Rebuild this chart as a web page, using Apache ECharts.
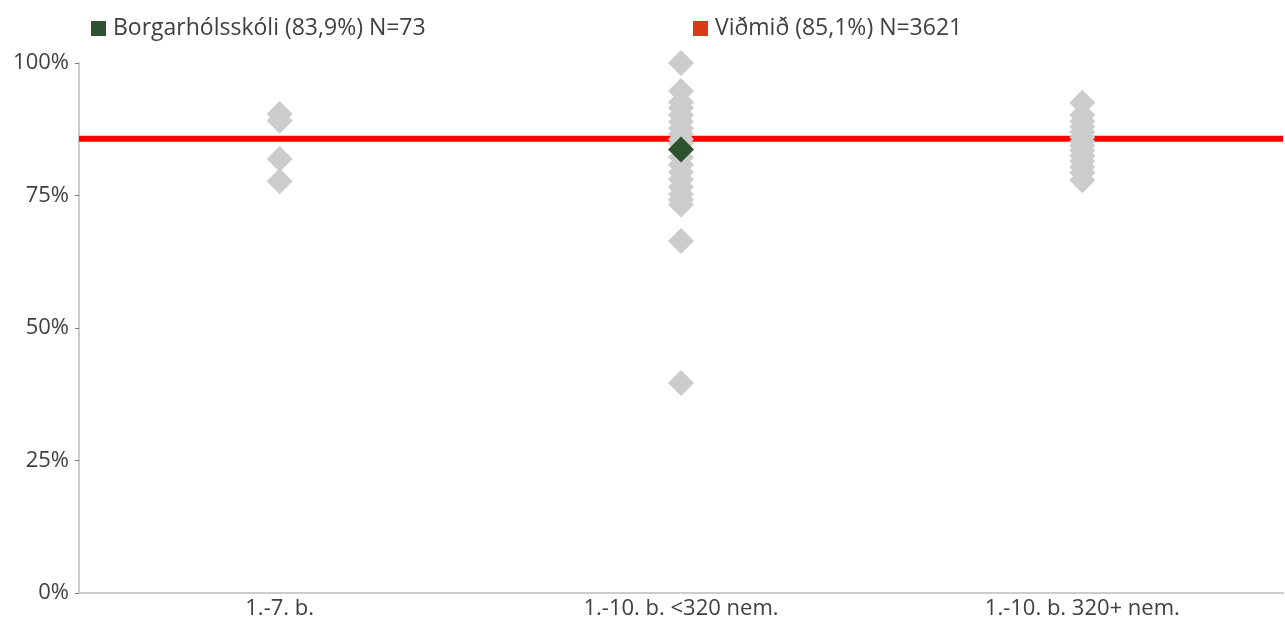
<!DOCTYPE html>
<html>
<head>
<meta charset="utf-8">
<script src="https://cdn.jsdelivr.net/npm/echarts@6/dist/echarts.min.js"></script>
<style>
  html, body { margin: 0; padding: 0; background: #fff; }
  #chart { width: 1285px; height: 622px; }
</style>
</head>
<body>
<div id="chart"></div>
<script>
const categories = ['1.-7. b.', '1.-10. b. <320 nem.', '1.-10. b. 320+ nem.'];

// other schools, per category (percent)
const schools1to7 = [90.4, 89.1, 81.9, 77.7];
const schoolsSmall = [100, 94.7, 92.6, 91.5, 90.2, 88.9, 87.7, 86.6, 85.6, 84.8, 82.2, 80.8, 79.4, 78, 76.6, 75.3, 74.2, 73.3, 66.4, 39.6];
const schoolsLarge = [92.5, 90.2, 89, 88, 87, 86, 85.2, 84.4, 83.5, 82.5, 81.5, 80.4, 79.3, 77.9];

const ownSchool = { name: 'Borgarhólsskóli (83,9%) N=73', category: 1, value: 83.7 };
const benchmark = { name: 'Viðmið (85,1%) N=3621', value: 85.7 };

const yTicks = [0, 25, 50, 75, 100];

const toPoints = (vals, cat) => vals.map(v => [cat, v]);
const grayPoints = [].concat(
  toPoints(schools1to7, 0),
  toPoints(schoolsSmall, 1),
  toPoints(schoolsLarge, 2)
);

const font = '"Open Sans", Lato, sans-serif';
const textColor = '#404040';

const chart = echarts.init(document.getElementById('chart'));
chart.setOption({
  animation: false,
  textStyle: { fontFamily: font },
  grid: { left: 79, right: 2, top: 63, bottom: 29 },
  legend: [
    {
      data: [ownSchool.name],
      left: 86, top: 12,
      icon: 'rect', itemWidth: 15, itemHeight: 15,
      textStyle: { color: textColor, fontSize: 23, fontFamily: font, padding: [0, 0, 0, 2] }
    },
    {
      data: [benchmark.name],
      left: 688, top: 12,
      icon: 'rect', itemWidth: 15, itemHeight: 15,
      textStyle: { color: textColor, fontSize: 23, fontFamily: font, padding: [0, 0, 0, 2] }
    }
  ],
  xAxis: [
    {
      type: 'category',
      data: categories,
      boundaryGap: true,
      axisLine: { lineStyle: { color: '#cccccc', width: 2 } },
      axisTick: { show: false },
      axisLabel: { color: textColor, fontSize: 22, margin: 5 },
      splitLine: { show: false }
    },
    {
      // hidden helper axis so the benchmark line spans the full plot width
      type: 'value',
      min: 0, max: 1,
      show: false
    }
  ],
  yAxis: {
    type: 'value',
    min: 0, max: 100, interval: 25,
    axisLine: { show: true, lineStyle: { color: '#cccccc', width: 2 } },
    axisTick: { show: true, length: 4, lineStyle: { color: '#7f7f7f', width: 1 } },
    axisLabel: {
      color: textColor, fontSize: 22, margin: 10,
      formatter: v => yTicks.includes(v) ? v + '%' : ''
    },
    splitLine: { show: false }
  },
  series: [
    {
      name: benchmark.name,
      type: 'line',
      xAxisIndex: 1,
      z: 1,
      symbol: 'none',
      silent: true,
      itemStyle: { color: '#dc3a14' },
      lineStyle: { color: '#ff0000', width: 6 },
      data: [[0, benchmark.value], [1, benchmark.value]]
    },
    {
      name: 'Aðrir skólar',
      type: 'scatter',
      symbol: 'diamond',
      symbolSize: 26,
      zlevel: 1,
      z: 10,
      itemStyle: { color: '#cccccc', opacity: 1 },
      data: grayPoints
    },
    {
      name: ownSchool.name,
      type: 'scatter',
      symbol: 'diamond',
      symbolSize: 26,
      zlevel: 1,
      z: 11,
      itemStyle: { color: '#2e5130', opacity: 1 },
      data: [[ownSchool.category, ownSchool.value]]
    }
  ]
});
</script>
</body>
</html>
